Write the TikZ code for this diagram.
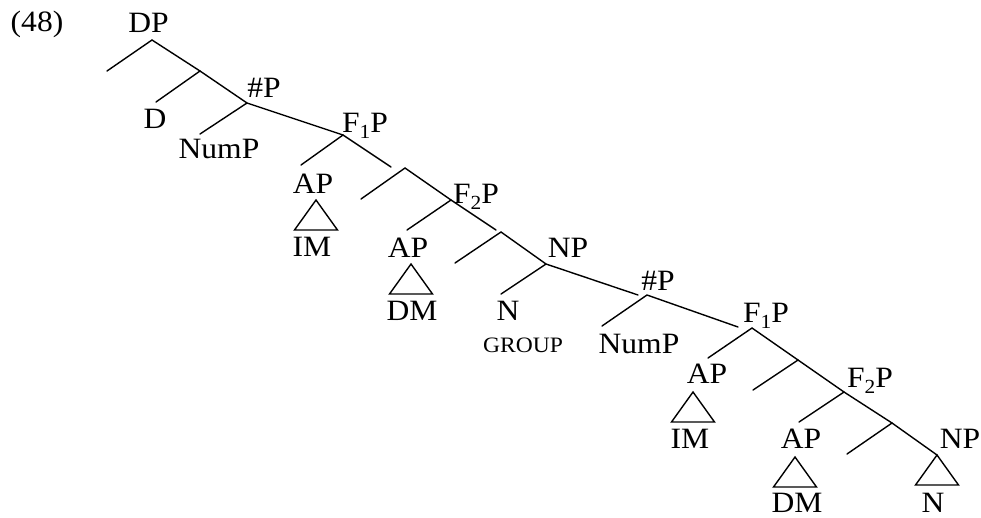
\documentclass[tikz,border=0pt]{standalone}
\usepackage{fontspec}
\setmainfont{Liberation Serif}[FakeStretch=1.07]
\newcommand{\sbx}[1]{\raisebox{-0.22em}{\fontsize{20}{20}\selectfont #1}}
\begin{document}
\begin{tikzpicture}[x=1pt,y=-1pt,
  lbl/.style={anchor=base, inner sep=0pt, font=\fontsize{29.5}{36}\selectfont},
  sml/.style={anchor=base, inner sep=0pt, font=\fontsize{22}{26}\selectfont},
  br/.style={line width=1.4pt, line cap=round},
  tri/.style={line width=1.4pt, line join=miter}]
\useasboundingbox (0,0) rectangle (981,517);
% branch points
\coordinate (dp) at (152,40);
\coordinate (dpL) at (107,71);
\coordinate (m1) at (200,71);
\coordinate (m1L) at (156,102);
\coordinate (hp1) at (247,103);
\coordinate (hp1L) at (200,134);
\coordinate (fa) at (343,135);
\coordinate (faL) at (301,165);
\coordinate (faR) at (391,167);
\coordinate (m2) at (405,168);
\coordinate (m2L) at (361,199);
\coordinate (fb) at (451,200);
\coordinate (fbL) at (407,230);
\coordinate (fbR) at (496,230);
\coordinate (m3) at (501,232);
\coordinate (m3L) at (455,263);
\coordinate (np1) at (546,264);
\coordinate (np1L) at (501,294);
\coordinate (np1R) at (638,295);
\coordinate (hp2) at (647,295);
\coordinate (hp2L) at (602,326);
\coordinate (hp2R) at (738,327);
\coordinate (fc) at (752,328);
\coordinate (fcL) at (708,358);
\coordinate (m4) at (798,360);
\coordinate (m4L) at (753,390);
\coordinate (fd) at (844,392);
\coordinate (fdL) at (799,422);
\coordinate (m5) at (892,423);
\coordinate (m5L) at (847,454);
\coordinate (np2) at (937,455);
% triangle apexes
\coordinate (ta) at (316,200);
\coordinate (tb) at (411,264);
\coordinate (tc) at (693,392);
\coordinate (td) at (795,457);
% branches
\draw[br] (dpL) -- (dp) -- (m1);
\draw[br] (m1L) -- (m1) -- (hp1);
\draw[br] (hp1L) -- (hp1) -- (fa);
\draw[br] (faL) -- (fa) -- (faR);
\draw[br] (m2L) -- (m2) -- (fb);
\draw[br] (fbL) -- (fb) -- (fbR);
\draw[br] (m3L) -- (m3) -- (np1);
\draw[br] (np1L) -- (np1) -- (np1R);
\draw[br] (hp2L) -- (hp2) -- (hp2R);
\draw[br] (fcL) -- (fc) -- (m4);
\draw[br] (m4L) -- (m4) -- (fd);
\draw[br] (fdL) -- (fd) -- (m5);
\draw[br] (m5L) -- (m5) -- (np2);
% triangles
\foreach \t in {ta,tb,tc,td,np2}
  \draw[tri] (\t) -- ++(-21.5,30) -- ++(43,0) -- cycle;
% labels
\node[lbl] (ex) at (37,31) {(48)};
\node[lbl] (lDP) at (148.5,32) {DP};
\node[lbl] (lD) at (155,128) {D};
\node[lbl] (lH1) at (264,97) {\#P};
\node[lbl] (lNum1) at (219,158) {NumP};
\node[lbl] (lF1a) at (365,132) {F\sbx{1}P};
\node[lbl] (lAPa) at (313,193) {AP};
\node[lbl] (lIMa) at (312,256) {IM};
\node[lbl] (lF2a) at (476,203) {F\sbx{2}P};
\node[lbl] (lAPb) at (408,257) {AP};
\node[lbl] (lDMa) at (412,320) {DM};
\node[lbl] (lNP1) at (568,257) {NP};
\node[lbl] (lN1) at (508,320) {N};
\node[sml] (lGR) at (523,352) {GROUP};
\node[lbl] (lH2) at (658,290) {\#P};
\node[lbl] (lNum2) at (639,353) {NumP};
\node[lbl] (lF1b) at (766,322) {F\sbx{1}P};
\node[lbl] (lAPc) at (707,383) {AP};
\node[lbl] (lIMb) at (690,448) {IM};
\node[lbl] (lF2b) at (870,387) {F\sbx{2}P};
\node[lbl] (lAPd) at (801,448) {AP};
\node[lbl, text depth=0pt] (lDMb) at (797,512) {DM};
\node[lbl] (lNP2) at (960,448) {NP};
\node[lbl, text depth=0pt] (lN2) at (933,512) {N};
\end{tikzpicture}
\end{document}
